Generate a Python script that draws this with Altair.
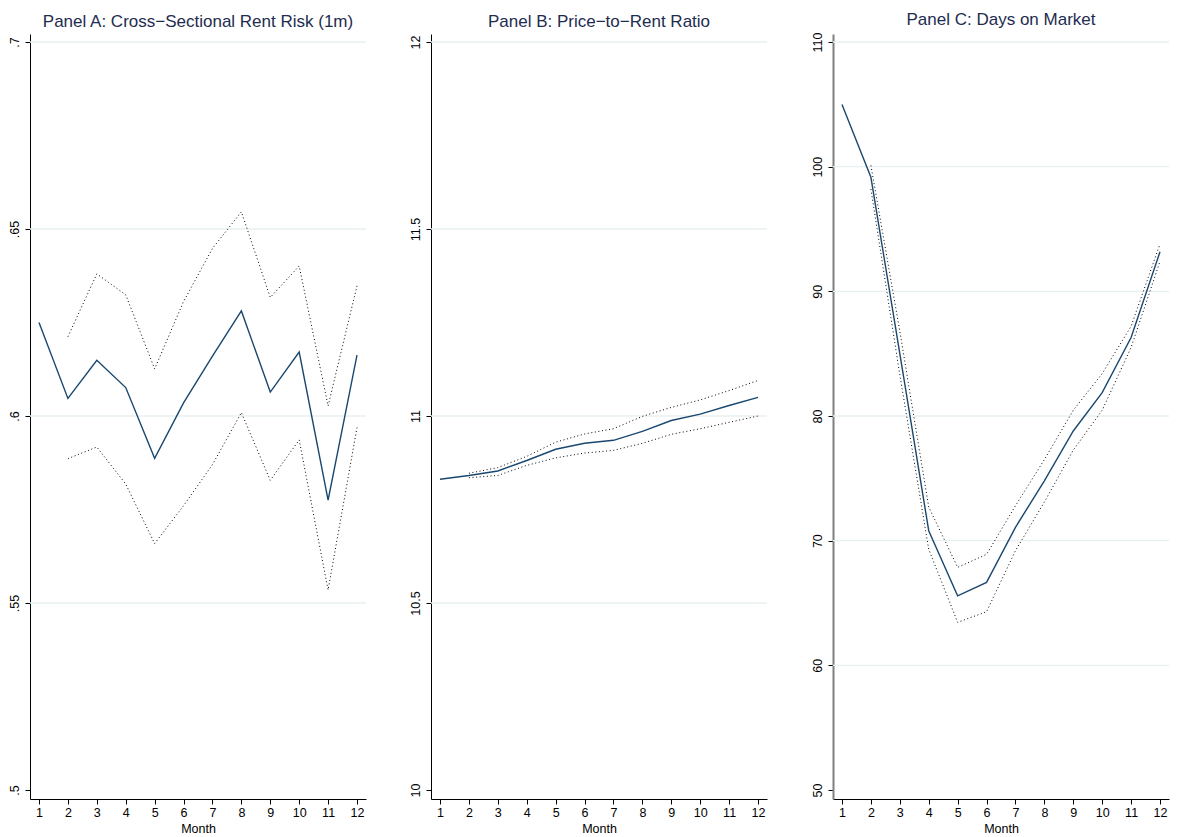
import altair as alt
import pandas as pd

months = list(range(1, 13))

# Panel A: Cross-Sectional Rent Risk (1m)
a_est = [0.625, 0.6047, 0.6149, 0.6076, 0.5887, 0.6035, 0.616, 0.6281, 0.6064, 0.6171, 0.5775, 0.6163]
a_hi = [None, 0.6212, 0.638, 0.6324, 0.6126, 0.6306, 0.6448, 0.6546, 0.6317, 0.6401, 0.6027, 0.6348]
a_lo = [None, 0.5886, 0.5917, 0.5818, 0.5659, 0.576, 0.587, 0.6009, 0.5828, 0.5936, 0.5535, 0.5969]
a_ticks = [0.5, 0.55, 0.6, 0.65, 0.7]
a_labels = [".5", ".55", ".6", ".65", ".7"]

# Panel B: Price-to-Rent Ratio
b_est = [10.831, 10.841, 10.853, 10.881, 10.911, 10.927, 10.935, 10.959, 10.988, 11.005, 11.028, 11.05]
b_hi = [None, 10.847, 10.862, 10.892, 10.930, 10.952, 10.966, 10.999, 11.023, 11.043, 11.068, 11.095]
b_lo = [None, 10.835, 10.841, 10.868, 10.888, 10.901, 10.908, 10.927, 10.951, 10.966, 10.983, 11.0]
b_ticks = [10, 10.5, 11, 11.5, 12]
b_labels = ["10", "10.5", "11", "11.5", "12"]

# Panel C: Days on Market
c_est = [104.98, 99.15, 85.0, 70.8, 65.57, 66.65, 71.07, 74.8, 78.8, 81.87, 86.3, 93.17]
c_hi = [None, 100.1, 86.8, 72.7, 67.86, 68.9, 72.8, 76.5, 80.46, 83.4, 87.2, 93.8]
c_lo = [None, 98.2, 83.3, 69.3, 63.45, 64.3, 69.2, 73.1, 77.26, 80.46, 85.5, 92.4]
c_ticks = [50, 60, 70, 80, 90, 100, 110]
c_labels = ["50", "60", "70", "80", "90", "100", "110"]

titles = [
    "Panel A: Cross\u2212Sectional Rent Risk (1m)",
    "Panel B: Price\u2212to\u2212Rent Ratio",
    "Panel C: Days on Market",
]

W, H = 336, 765
PAD_TOP, PAD_BOT = 8, 9        # px between extreme ticks and plot edges
PAD_X = 9
NAVY = "#1a476f"
TITLE_COLOR = "#1e2c4f"
GRID = "#e8f0f1"
FONT = "Liberation Sans"


def label_expr(vals, labs):
    parts = [f"abs(datum.value - {v}) < 1e-9 ? '{s}' : " for v, s in zip(vals, labs)]
    return "".join(parts) + "''"


def panel(title, est, hi, lo, ticks, labels, ydomain_color="black", ydomain_width=1):
    span = ticks[-1] - ticks[0]
    u = span / (H - PAD_TOP - PAD_BOT)
    ydom = [ticks[0] - PAD_BOT * u, ticks[-1] + PAD_TOP * u]
    ux = 11 / (W - 2 * PAD_X)
    xdom = [1 - PAD_X * ux, 12 + PAD_X * ux]

    rows = []
    for m, e, h, l in zip(months, est, hi, lo):
        rows.append({"month": m, "series": "est", "value": e})
        if h is not None:
            rows.append({"month": m, "series": "hi", "value": h})
        if l is not None:
            rows.append({"month": m, "series": "lo", "value": l})
    df = pd.DataFrame(rows)
    grid_df = pd.DataFrame({"g": ticks[1:]})

    xenc = alt.X(
        "month:Q",
        scale=alt.Scale(domain=xdom, nice=False, zero=False),
        axis=alt.Axis(values=months, title="Month", grid=False, labelAngle=0,
                      format="d", labelPadding=2, titlePadding=4,
                      labelFlush=False, labelFontSize=12.5, titleFontSize=12.5,
                      titleFontWeight="normal", labelFont=FONT, titleFont=FONT,
                      labelColor="black", titleColor="black",
                      domainColor="black", tickColor="black", tickSize=5),
    )
    yscale = alt.Scale(domain=ydom, nice=False, zero=False)
    yaxis = alt.Axis(values=ticks, title=None, grid=False, labelAngle=270,
                     labelAlign="center", labelBaseline="bottom",
                     labelPadding=4, labelExpr=label_expr(ticks, labels),
                     domainColor=ydomain_color, domainWidth=ydomain_width,
                     labelFlush=False, labelFontSize=12.5, labelFont=FONT,
                     labelColor="black", tickColor="black", tickSize=5)

    grid = alt.Chart(grid_df).mark_rule(color=GRID, strokeWidth=1.3).encode(
        y=alt.Y("g:Q", scale=yscale, axis=yaxis)
    )
    main = alt.Chart(df).transform_filter(alt.datum.series == "est").mark_line(
        color=NAVY, strokeWidth=1.4
    ).encode(x=xenc, y=alt.Y("value:Q", scale=yscale, axis=yaxis))
    bands = alt.Chart(df).transform_filter(alt.datum.series != "est").mark_line(
        color="black", strokeWidth=1, strokeDash=[1, 2.6]
    ).encode(
        x=xenc,
        y=alt.Y("value:Q", scale=yscale, axis=yaxis),
        detail="series:N",
    )
    return alt.layer(grid, bands, main).properties(
        width=W, height=H,
        title=alt.TitleParams(title, fontSize=17, color=TITLE_COLOR, font=FONT,
                              fontWeight="normal", offset=3, anchor="middle"),
    )


pa = panel(titles[0], a_est, a_hi, a_lo, a_ticks, a_labels)
pb = panel(titles[1], b_est, b_hi, b_lo, b_ticks, b_labels)
pc = panel(titles[2], c_est, c_hi, c_lo, c_ticks, c_labels,
           ydomain_color="#808080", ydomain_width=2)

chart = alt.hconcat(pa, pb, pc, spacing=42).properties(
    padding={"left": 0, "top": 3, "right": 0, "bottom": 0},
    background="white",
).configure_view(stroke=None)

chart.save("out.html", embed_options={"renderer": "svg", "actions": False})
